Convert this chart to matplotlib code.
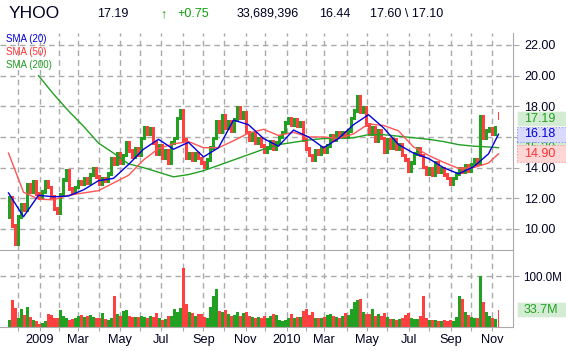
import numpy as np
import pandas as pd
import matplotlib
matplotlib.use('Agg')
import matplotlib.pyplot as plt
import matplotlib.transforms as mtransforms
from matplotlib.patches import Rectangle

plt.rcParams['font.family'] = ['Liberation Sans', 'DejaVu Sans']

# price bars, one per 3 trading days, starting 2008-11-14
first_open = 10.8
closes = [12.0, 10.2, 9.0, 10.8, 11.6, 11.2, 12.9, 12.4, 13.1, 12.3,
          12.0, 12.4, 13.1, 12.7, 12.1, 11.3, 11.0, 12.2, 13.2, 13.8,
          12.6, 12.4, 12.7, 13.1, 12.9, 13.3, 13.0, 13.5, 13.9, 13.4,
          12.9, 13.3, 13.1, 13.6, 14.6, 14.2, 14.9, 14.3, 14.8, 15.6,
          15.1, 14.7, 15.2, 14.8, 15.9, 16.6, 16.2, 16.5, 15.6, 14.9,
          15.4, 14.6, 15.1, 14.3, 15.6, 15.9, 17.2, 17.7, 15.8, 14.6,
          14.9, 14.5, 14.9, 14.6, 14.3, 14.0, 14.5, 15.3, 15.9, 17.0,
          16.3, 17.4, 16.6, 17.0, 16.4, 17.1, 17.9, 17.2, 17.6, 16.3,
          15.8, 16.2, 15.6, 15.9, 15.4, 15.0, 15.3, 15.7, 15.2, 15.6,
          16.0, 16.3, 16.9, 17.2, 16.8, 17.1, 16.7, 16.9, 15.8, 15.2,
          14.8, 14.5, 15.1, 14.9, 15.3, 15.0, 15.4, 16.1, 15.8, 16.3,
          16.0, 16.3, 16.0, 16.4, 17.2, 17.7, 18.6, 17.6, 17.9, 16.8,
          16.2, 16.6, 15.7, 16.4, 15.9, 15.0, 15.8, 15.3, 15.8, 15.2,
          15.5, 14.8, 14.5, 13.8, 14.3, 14.9, 15.2, 14.8, 14.0, 13.6,
          13.9, 13.5, 14.3, 13.7, 13.9, 13.5, 13.3, 12.9, 13.3, 13.6,
          13.9, 13.7, 14.1, 13.8, 14.2, 14.5, 14.2, 17.3, 15.9, 16.4,
          16.5, 16.2, 16.6]

# volume in millions, same buckets
volumes = [14, 52, 38, 18, 35, 24, 40, 20, 14, 12,
           5, 8, 12, 25, 24, 18, 18, 33, 22, 17,
           14, 15, 18, 22, 24, 19, 21, 23, 19, 17,
           18, 27, 15, 14, 18, 60, 26, 22, 32, 34,
           22, 20, 20, 19, 22, 19, 17, 22, 19, 27,
           17, 14, 16, 22, 22, 36, 30, 38, 115, 45,
           30, 28, 22, 25, 26, 20, 18, 40, 60, 75,
           32, 30, 34, 25, 22, 24, 30, 22, 28, 30,
           22, 20, 17, 20, 18, 22, 18, 22, 25, 24,
           14, 11, 14, 18, 26, 18, 19, 19, 32, 35,
           24, 30, 18, 17, 18, 20, 24, 26, 22, 19,
           18, 22, 27, 24, 35, 50, 52, 55, 30, 26,
           25, 35, 22, 25, 22, 28, 20, 16, 15, 14,
           16, 18, 24, 28, 17, 15, 15, 22, 60, 18,
           14, 13, 14, 12, 12, 13, 12, 14, 12, 20,
           60, 55, 30, 24, 20, 18, 17, 100, 50, 30,
           22, 18, 15]

# latest session (header)
last_price = 17.19
change = 0.75
last_volume = 33689396
prev_close = 16.44
day_high = 17.60
day_low = 17.10

# moving averages sampled every 15 trading days, plus the last day
sma20 = [12.35, 10.8, 12.2, 12.1, 12.15, 12.55, 13.15, 13.3, 14.2, 15.2,
         15.85, 15.2, 15.65, 14.7, 15.3, 17.1, 16.8, 15.9, 15.4, 16.45,
         16.0, 15.3, 15.9, 16.8, 17.45, 16.6, 15.5, 14.95, 14.6, 14.0,
         13.6, 14.05, 14.9, 16.18]
sma50 = [14.95, 12.4, 11.95, 11.9, 12.2, 12.35, 12.5, 13.0, 13.5, 14.5,
         15.25, 15.55, 15.7, 15.3, 15.3, 15.75, 16.25, 16.5, 16.1, 16.3,
         16.0, 16.0, 15.9, 16.2, 16.85, 16.75, 16.4, 15.35, 14.8, 14.35,
         13.95, 14.0, 14.3, 14.90]
sma200 = [np.nan, np.nan, 20.0, 18.8, 17.7, 16.7, 15.6, 14.95, 14.25, 14.0,
          13.7, 13.4, 13.55, 13.8, 14.15, 14.5, 14.85, 15.2, 15.5, 15.65,
          15.8, 15.9, 15.9, 15.95, 16.15, 16.15, 16.05, 15.95, 15.85, 15.7,
          15.5, 15.4, 15.35, 15.30]

holidays = ['2008-11-27', '2008-12-25', '2009-01-01', '2009-01-19', '2009-02-16',
            '2009-04-10', '2009-05-25', '2009-07-03', '2009-09-07', '2009-11-26',
            '2009-12-25', '2010-01-01', '2010-01-18', '2010-02-15', '2010-04-02',
            '2010-05-31', '2010-07-05', '2010-09-06']

GREEN = '#22a022'
RED = '#ff4040'
GRID = '#aaaaaa'
TXT = '#000022'
W, H = 566, 351

# month starts: trading-day index, stretched so Dec 2008 .. Nov 2010 span the plot
days = pd.bdate_range('2008-11-14', '2010-11-30', freq='C', holidays=holidays)
idx, month_lab = [], []
for i in range(1, len(days)):
    if days[i].month != days[i - 1].month:
        idx.append(i)
        m = days[i].month
        if m == 1:
            month_lab.append(str(days[i].year))
        elif m % 2 == 1:
            month_lab.append(days[i].strftime('%b'))
        else:
            month_lab.append('')
idx = np.array(idx)
month_pos = 10 + (idx - idx[0]) * 474.0 / (idx[-1] - idx[0])

closes = np.array(closes)
opens = np.r_[first_open, closes[:-1]]
up = closes >= opens
cols = np.where(up, GREEN, RED)
xk = np.arange(len(closes)) * 3
last_i = len(closes) * 3 + 1
sma_x = np.r_[np.arange(len(sma20) - 1) * 15, last_i] + 0.5

fig = plt.figure(figsize=(W / 100, H / 100), dpi=100)
ax = fig.add_axes([0, 1 - 250 / H, 513 / W, 217 / H])
axv = fig.add_axes([0, 1 - 327 / H, 513 / W, 77 / H])

for a in (ax, axv):
    a.set_xlim(-8, 505)
    a.set_xticks(month_pos)
    a.grid(True, ls=(0, (4, 3)), color=GRID, lw=1)
    a.set_axisbelow(True)
    a.spines['left'].set_visible(False)
    for s in ('right', 'top', 'bottom'):
        a.spines[s].set_color(GRID)

# price panel
ax.set_ylim(8.63, 22.78)
lo = np.minimum(opens, closes) - 0.12
hi = np.maximum(opens, closes) + 0.12
ax.bar(xk, hi - lo, bottom=lo, width=3, align='edge',
       color=cols, linewidth=0, antialiased=False)
ax.bar(last_i, day_high - day_low, bottom=day_low, width=1.2, align='edge',
       color=RED, linewidth=0)
ax.plot(sma_x, sma200, color='#22a022', lw=1)
ax.plot(sma_x, sma50, color='#ff5555', lw=1)
ax.plot(sma_x, sma20, color='#0000dd', lw=1)
ax.spines['top'].set_visible(False)
ax.spines['bottom'].set_visible(False)
ax.yaxis.tick_right()
ax.set_yticks(np.arange(10, 23, 2))
ax.set_yticklabels([f'{v:.2f}' for v in np.arange(10, 23, 2)])
ax.tick_params(axis='y', length=4, color=GRID, pad=4, labelsize=9, labelcolor=TXT)
ax.tick_params(axis='x', length=0, labelbottom=False)

# volume panel
axv.set_ylim(0, 151)
axv.bar(xk, volumes, width=3, align='edge', color=cols, linewidth=0, antialiased=False)
axv.bar(last_i, last_volume / 1e6, width=1.2, align='edge', color=RED, linewidth=0)
axv.yaxis.tick_right()
axv.set_yticks([100])
axv.set_yticklabels(['100.0M'])
axv.tick_params(axis='y', length=4, color=GRID, pad=3, labelsize=8.4, labelcolor=TXT)
axv.set_xticklabels(month_lab)
axv.tick_params(axis='x', length=3, color=GRID, pad=2, labelsize=9.2, labelcolor=TXT)


def value_box(a, val, text, fc, ec, tc, half, z):
    tr = mtransforms.blended_transform_factory(fig.transFigure, a.transData)
    a.add_patch(Rectangle((517 / W, val - half), 49 / W, 2 * half, transform=tr,
                          facecolor=fc, edgecolor=ec, ls=':', lw=0.8,
                          clip_on=False, zorder=z))
    a.text(524 / W, val, text, transform=tr, va='center', ha='left', color=tc,
           fontsize=9, clip_on=False, zorder=z + 0.5)


value_box(ax, sma200[-1], f'{sma200[-1]:.2f}', '#d4ecd4', '#88cc88', GREEN, 0.48, 10)
value_box(ax, sma50[-1], f'{sma50[-1]:.2f}', '#ffd6d6', '#ff9999', '#ff3030', 0.55, 11)
value_box(ax, sma20[-1], f'{sma20[-1]:.2f}', '#dadaff', '#8888ff', '#0000dd', 0.5, 12)
value_box(ax, last_price, f'{last_price:.2f}', '#d4ecd4', '#ffffff', GREEN, 0.5, 13)
value_box(axv, last_volume / 1e6, f'{last_volume / 1e6:.1f}M', '#d4ecd4', '#ffffff',
          GREEN, 14.5, 10)

# legend
for txt, c, y in [('SMA (20)', '#0000dd', 39), ('SMA (50)', '#ff3030', 52),
                  ('SMA (200)', GREEN, 65)]:
    fig.text(6 / W, 1 - y / H, txt, color=c, fontsize=7, va='center')

# header
fig.text(9 / W, 1 - 13.5 / H, 'YHOO', fontsize=12.5, color=TXT, va='center')
fig.text(97 / W, 1 - 14 / H, f'{last_price:.2f}', fontsize=9, color=TXT, va='center')
fig.text(160 / W, 1 - 14 / H, '\u2191', fontsize=9, color='#10a010', va='center',
         fontweight='bold')
fig.text(177 / W, 1 - 14 / H, f'+{change:.2f}', fontsize=9, color='#10a010', va='center')
fig.text(237 / W, 1 - 14 / H, f'{last_volume:,}', fontsize=9, color=TXT, va='center')
fig.text(319 / W, 1 - 14 / H, f'{prev_close:.2f}', fontsize=9, color=TXT, va='center')
fig.text(370 / W, 1 - 14 / H, f'{day_high:.2f} \\ {day_low:.2f}', fontsize=9,
         color=TXT, va='center')

fig.savefig('out.png', dpi=100, facecolor='white')
